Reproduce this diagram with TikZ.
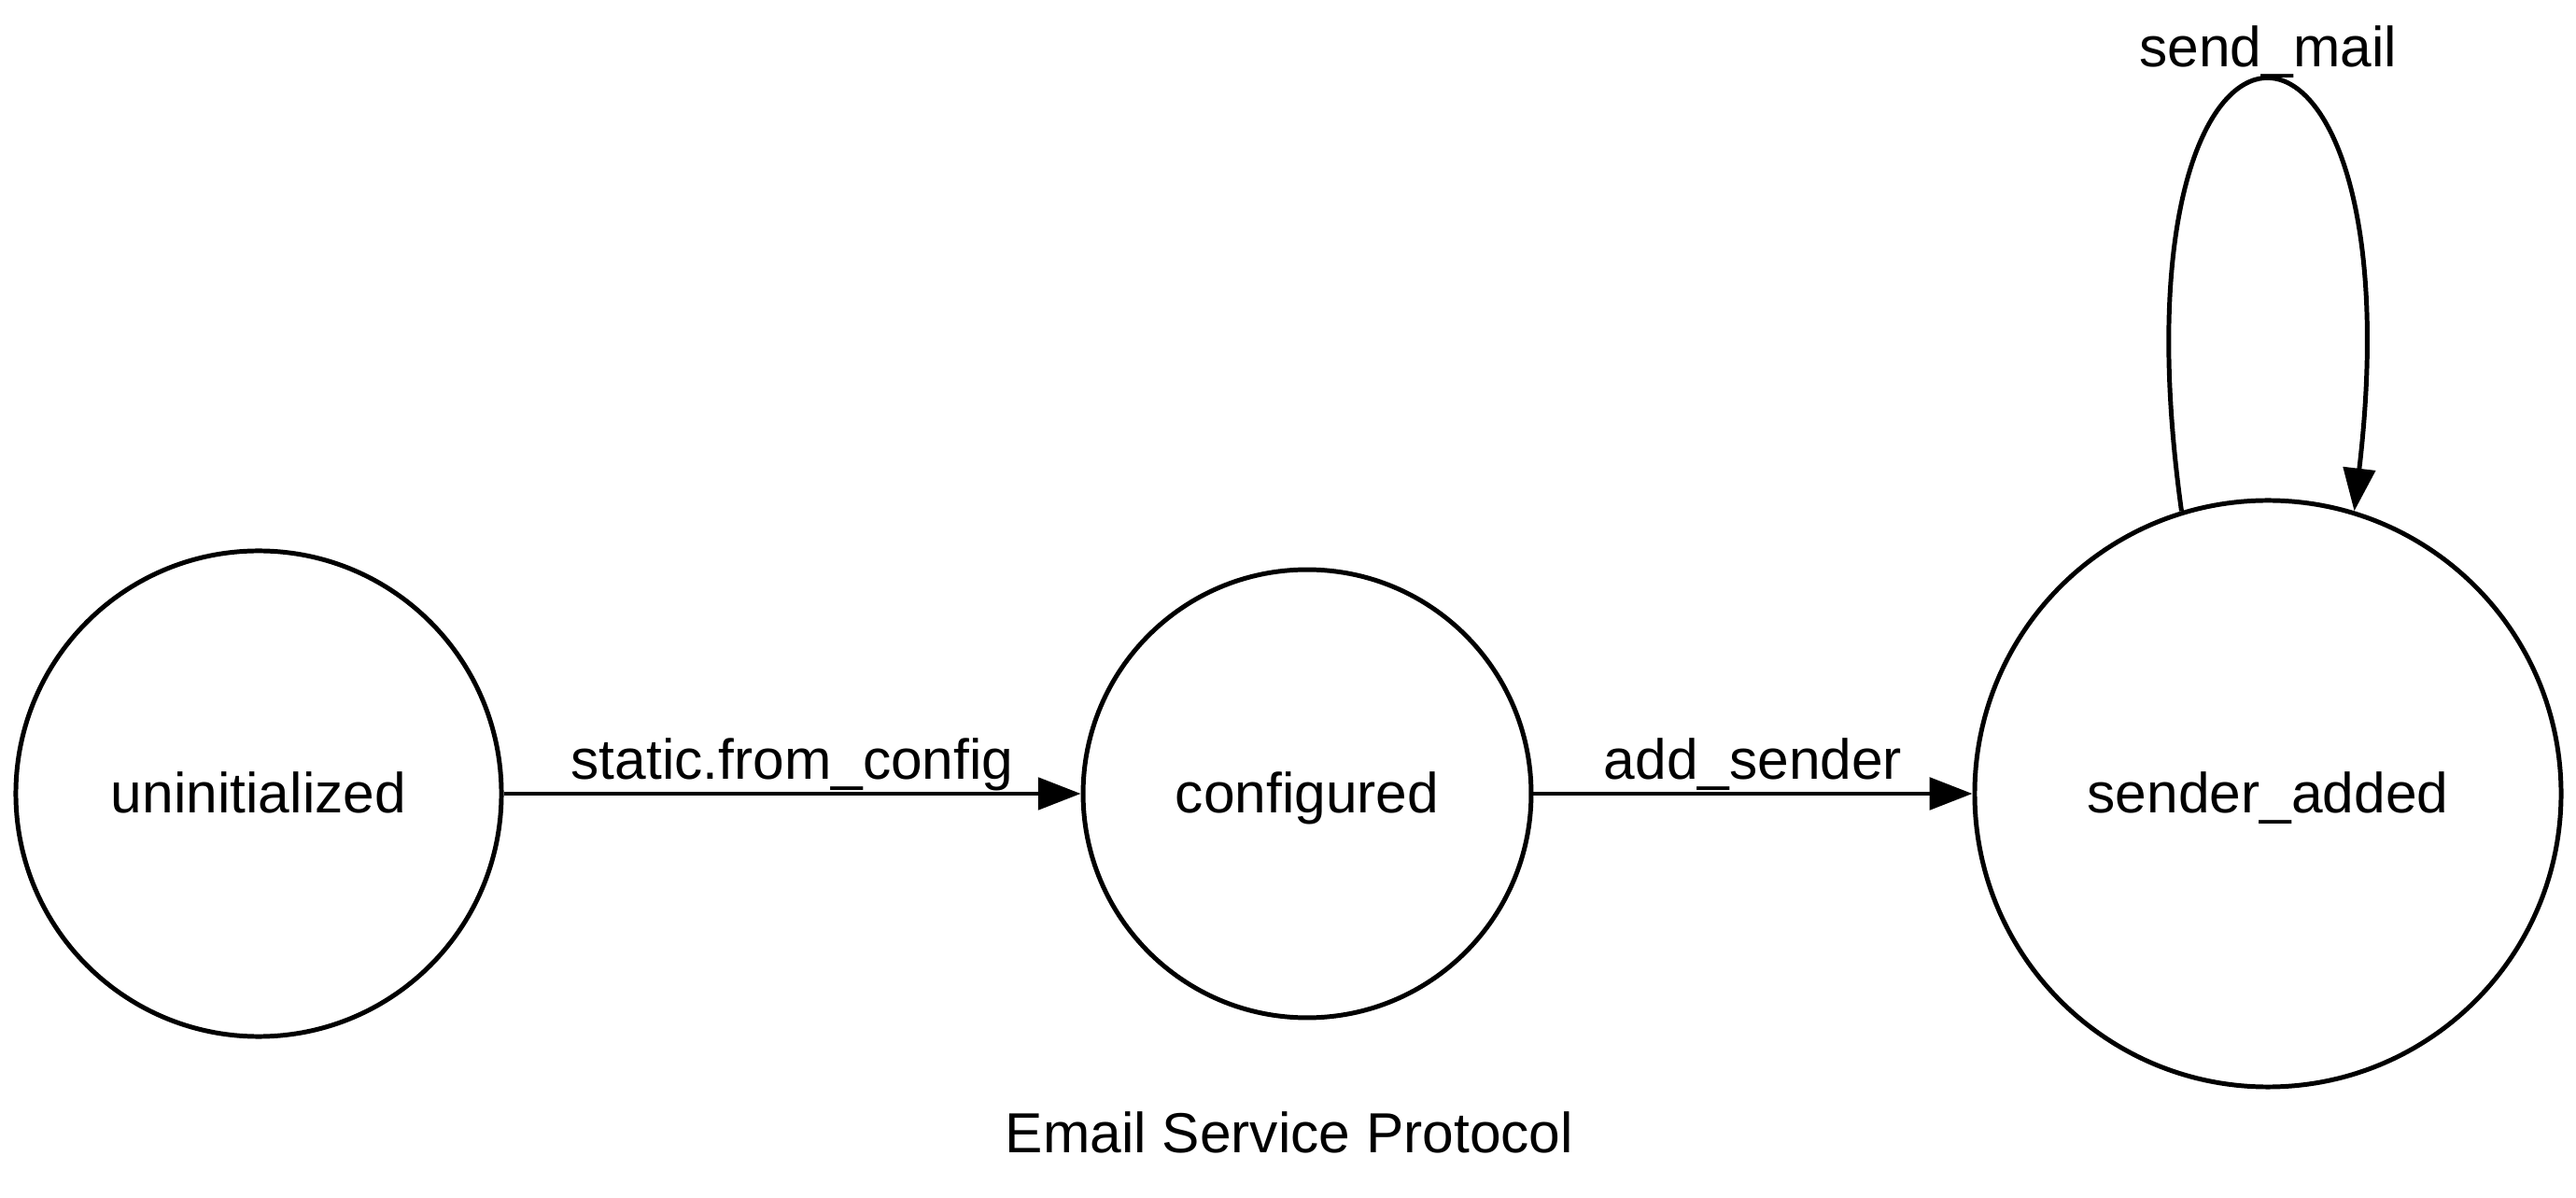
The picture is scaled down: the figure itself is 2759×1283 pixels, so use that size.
\documentclass[tikz,border=0pt]{standalone}
\usepackage{fontspec}
\setmainfont{Liberation Sans}
\usetikzlibrary{arrows.meta}

\begin{document}
\begin{tikzpicture}[x=0.2315pt,y=-0.2315pt]
			\tikzset{state/.style={circle,draw,line width=1.15pt,inner sep=0pt,text height=9.7pt,text depth=0pt,font=\fontsize{14pt}{17pt}\selectfont}}
			\tikzset{trans/.style={line width=1.15pt,-{Triangle[length=10.6pt,width=7.9pt]}}}
			\tikzset{translabel/.style={midway,anchor=base,inner sep=0pt,yshift=3.5pt,font=\fontsize{14pt}{17pt}\selectfont}}
			\useasboundingbox (0,0) rectangle (2759,1283);
			\node[state,minimum size=120.4pt] (uninit) at (277,850) {uninitialized};
			\node[state,minimum size=111.1pt] (configured) at (1400,850) {configured};
			\node[state,minimum size=145.4pt] (senderadded) at (2429,850) {sender\_added};
			\draw[trans] (uninit) -- node[translabel] {static.from\_config} (configured);
			\draw[trans] (configured) -- node[translabel] {add\_sender} (senderadded);
			\draw[trans] (senderadded.107) .. controls +(-85,-611) and +(72,-611) .. node[translabel,yshift=0.5pt,xshift=1.2pt] {send\_mail} (senderadded.73);
			\node[anchor=base,inner sep=0pt,font=\fontsize{14pt}{17pt}\selectfont] (title) at (1381,1234) {Email Service Protocol};
		\end{tikzpicture}
\end{document}
